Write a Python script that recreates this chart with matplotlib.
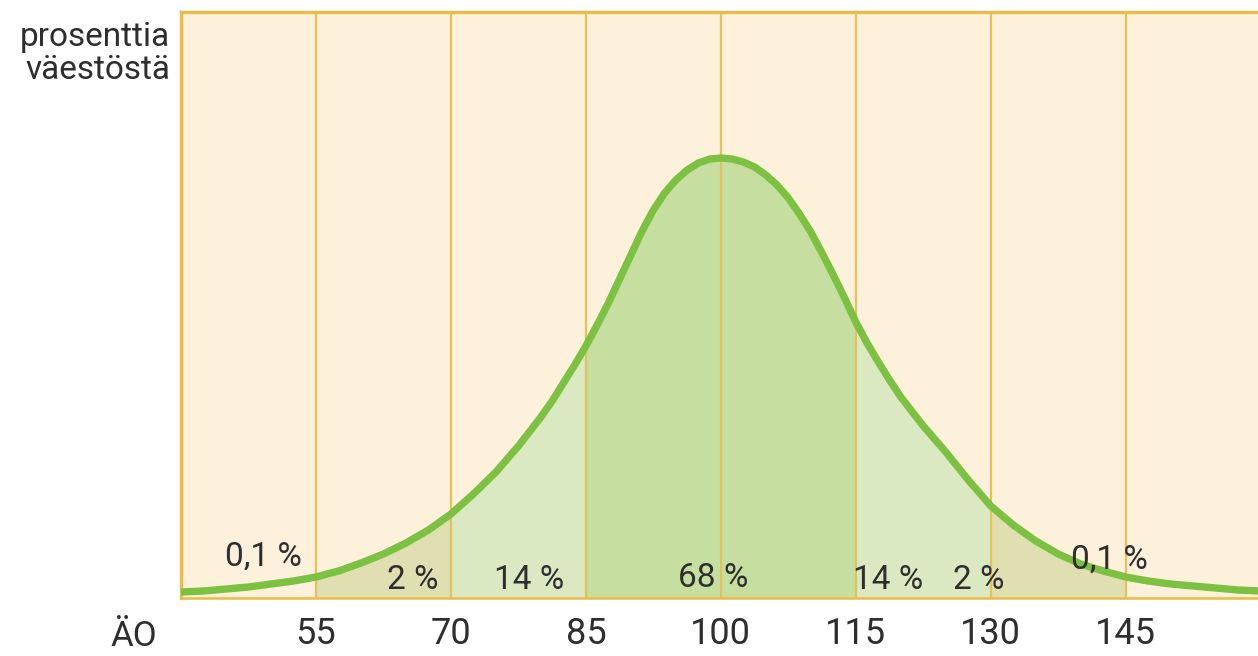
"""Normal distribution of IQ (ÄO) with shaded standard-deviation bands."""

import matplotlib
matplotlib.use("Agg")
import matplotlib.pyplot as plt

plt.rcParams["font.family"] = ["Roboto", "DejaVu Sans"]

# Curve: IQ value and relative height of the curve
iq = [40, 42.5, 45, 47.5, 50, 52.5, 55, 57.5, 60, 62.5, 65, 67.5, 70, 72.5,
      75, 77.5, 80, 81.25, 82.5, 83.75, 85, 86.25, 87.5, 88.75, 90, 91.25,
      92.5, 93.75, 95, 96.25, 97.5, 98.75, 100, 101.25, 102.5, 103.75, 105,
      106.25, 107.5, 108.75, 110, 111.25, 112.5, 113.75, 115, 116.25, 117.5,
      118.75, 120, 122.5, 125, 127.5, 130, 132.5, 135, 137.5, 140, 142.5,
      145, 147.5, 150, 152.5, 155, 157.5, 160]
height = [6, 7, 9, 11, 14, 17, 21, 27, 35, 44, 55, 68, 84, 104,
          126, 152, 181, 197, 215, 233, 252, 273, 295, 319, 343, 367,
          388, 405, 418, 428, 435, 439, 440, 439, 436, 431, 423,
          413, 400, 384, 366, 345, 323, 300, 276, 255, 236,
          218, 201, 172, 146, 118, 92, 73, 57, 44, 34, 27,
          21, 17, 14, 12, 10, 8, 7]

tick_values = [55, 70, 85, 100, 115, 130, 145]

# shaded bands: (start, end, colour)
bands = [
    (55, 70, "#dfdfb2"),
    (70, 85, "#dbe9c3"),
    (85, 115, "#c6dfa0"),
    (115, 130, "#dbe9c3"),
    (130, 145, "#dfdfb2"),
]

# share labels: text, x position, height
share_labels = ["0,1 %", "2 %", "14 %", "68 %", "14 %", "2 %", "0,1 %"]
share_x = [49.2, 65.7, 78.7, 99.1, 118.6, 128.7, 143.2]
share_y = [41, 18, 18, 20, 18, 18, 38]

fig = plt.figure(figsize=(12.58, 6.56), dpi=100)
ax = fig.add_axes([0.1439, 0.0884, 0.8561, 0.8933])
ax.set_xlim(40, 159.7)
ax.set_ylim(0, 586)
ax.set_facecolor("#fef1db")

line_col = "#e6c15a"
for v in tick_values:
    ax.axvline(v, color=line_col, linewidth=1.6, zorder=1)

for start, end, col in bands:
    xs = [x for x in iq if start <= x <= end]
    ys = [h for x, h in zip(iq, height) if start <= x <= end]
    ax.fill_between(xs, 0, ys, color=col, linewidth=0, zorder=0.5)

ax.plot(iq, height, color="#7cc142", linewidth=5.3, solid_capstyle="round",
        solid_joinstyle="round", zorder=3)

for txt, x, y in zip(share_labels, share_x, share_y):
    ax.text(x, y, txt, ha="center", va="center", fontsize=24,
            color="#2e2e2e", zorder=4)

ax.spines["right"].set_visible(False)
for side in ["top", "left"]:
    ax.spines[side].set_color("#e8bd45")
    ax.spines[side].set_linewidth(2.4)
ax.spines["bottom"].set_color("#e8bd45")
ax.spines["bottom"].set_linewidth(1.8)
ax.spines["bottom"].set_zorder(5)

ax.set_xticks(tick_values)
ax.set_xticklabels([str(v) for v in tick_values])
ax.tick_params(axis="x", length=0, pad=13, labelsize=26, labelcolor="#2e2e2e")
ax.set_yticks([])

ax.text(34.7, -38, "ÄO", ha="center", va="center", fontsize=25,
        color="#2e2e2e", clip_on=False)
fig.text(0.1352, 0.919, "prosenttia\nväestöstä", ha="right", va="center",
         fontsize=24, color="#2e2e2e", linespacing=1.05)

fig.savefig("out.png", dpi=100)
